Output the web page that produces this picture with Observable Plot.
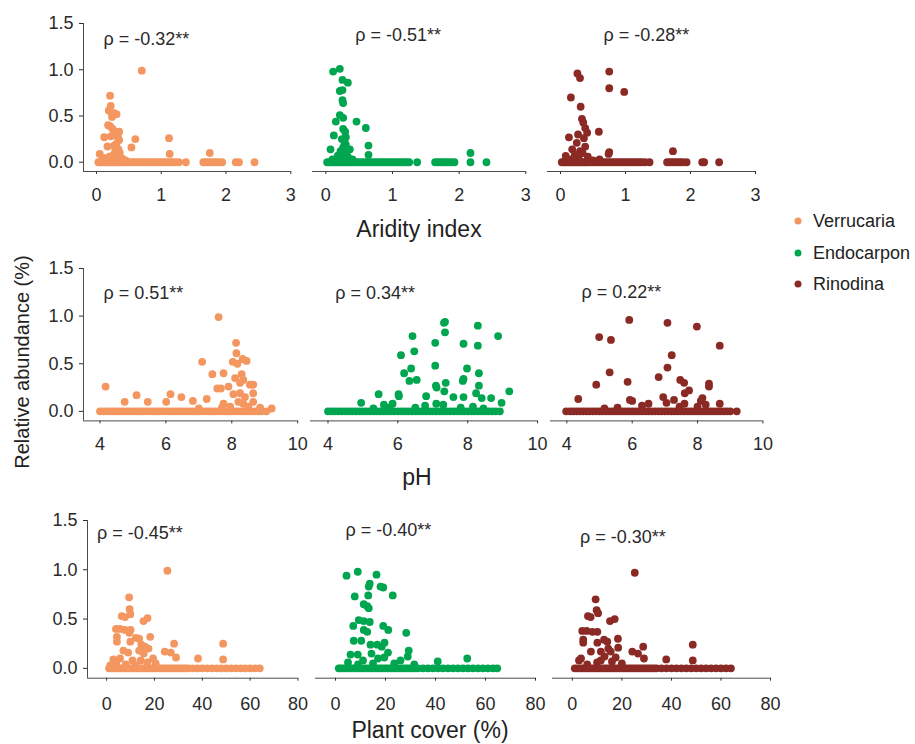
<!DOCTYPE html>
<html><head><meta charset="utf-8">
<script src="https://cdn.jsdelivr.net/npm/d3@7"></script>
<script src="https://cdn.jsdelivr.net/npm/@observablehq/plot@0.6"></script>
<style>
body{margin:0;background:#fff;font-family:"Liberation Sans",Arial,sans-serif;}
#fig{position:relative;width:915px;height:744px;overflow:hidden;background:#fff;}
.lbl{position:absolute;color:#222;white-space:nowrap;line-height:1;}
</style></head><body><div id="fig"></div>
<script>
// ---------- categories / labels ----------
const genera = ["Verrucaria", "Endocarpon", "Rinodina"];
const generaColors = ["#F4965F", "#00A64F", "#8B2A25"];
const variables = ["Aridity index", "pH", "Plant cover (%)"];
const yTitle = "Relative abundance (%)";
const yTicks = [0, 0.5, 1, 1.5];
const aridityTicks = [0, 1, 2, 3];
const pHTicks = [4, 6, 8, 10];
const coverTicks = [0, 20, 40, 60, 80];
const rhoLabels = [
  ["ρ = -0.32**", "ρ = -0.51**", "ρ = -0.28**"],
  ["ρ = 0.51**", "ρ = 0.34**", "ρ = 0.22**"],
  ["ρ = -0.45**", "ρ = -0.40**", "ρ = -0.30**"]
];

// ---------- Aridity index ----------
const aridityVerrucaria = [[0.70,0.99],[0.21,0.72],[0.22,0.61],[0.19,0.56],[0.23,0.54],[0.27,0.53],[0.31,0.52],[0.24,0.49],[0.18,0.40],[0.21,0.39],[0.25,0.36],[0.30,0.32],[0.35,0.33],[0.12,0.27],[0.22,0.28],[0.28,0.30],[0.33,0.27],[0.35,0.24],[0.60,0.25],[1.12,0.26],[0.54,0.16],[0.17,0.17],[0.27,0.18],[0.31,0.20],[0.34,0.14],[0.29,0.12],[0.36,0.10],[1.13,0.09],[0.05,0.09],[1.75,0.10],[0.10,0.05],[0.20,0.06],[0.26,0.08],[0.32,0.05],[0.40,0.04],[0.15,0.03],[0.45,0.02]];
const aridityZerosVerrucaria = [0.03,0.06,0.09,0.12,0.15,0.18,0.21,0.24,0.27,0.30,0.33,0.36,0.39,0.42,0.46,0.50,0.54,0.58,0.62,0.66,0.70,0.74,0.78,0.82,0.86,0.90,0.94,0.98,1.02,1.06,1.10,1.14,1.18,1.22,1.27,1.38,1.65,1.69,1.73,1.77,1.81,1.85,1.89,1.94,2.15,2.20,2.44];
const aridityEndocarpon = [[0.11,0.98],[0.21,1.01],[0.25,0.89],[0.33,0.86],[0.21,0.77],[0.25,0.78],[0.25,0.67],[0.26,0.64],[0.21,0.51],[0.26,0.48],[0.15,0.44],[0.46,0.44],[0.60,0.37],[0.26,0.36],[0.29,0.33],[0.12,0.29],[0.30,0.27],[0.24,0.25],[0.28,0.22],[0.64,0.18],[0.07,0.14],[0.26,0.16],[0.36,0.14],[0.30,0.19],[0.22,0.12],[0.64,0.08],[2.17,0.10],[0.18,0.07],[0.28,0.09],[0.33,0.06],[0.40,0.03],[0.10,0.03],[0.24,0.04]];
const aridityZerosEndocarpon = [0.02,0.05,0.08,0.11,0.14,0.17,0.20,0.23,0.26,0.29,0.32,0.35,0.38,0.41,0.45,0.49,0.53,0.57,0.61,0.65,0.69,0.73,0.77,0.81,0.85,0.89,0.93,0.97,1.01,1.05,1.09,1.13,1.17,1.21,1.25,1.37,1.64,1.68,1.72,1.76,1.80,1.84,1.88,1.93,2.17,2.41];
const aridityRinodina = [[0.26,0.96],[0.30,0.91],[0.75,0.98],[0.75,0.80],[0.98,0.76],[0.16,0.70],[0.31,0.60],[0.33,0.47],[0.35,0.43],[0.38,0.37],[0.41,0.32],[0.59,0.33],[0.13,0.27],[0.27,0.30],[0.36,0.26],[0.25,0.21],[0.38,0.17],[0.18,0.14],[0.30,0.12],[0.75,0.11],[0.74,0.09],[1.73,0.12],[0.08,0.07],[0.22,0.08],[0.34,0.10],[0.42,0.06],[0.28,0.04],[0.60,0.03],[0.15,0.03],[0.50,0.02]];
const aridityZerosRinodina = [0.02,0.05,0.08,0.11,0.14,0.17,0.20,0.23,0.26,0.29,0.32,0.35,0.38,0.41,0.45,0.49,0.53,0.57,0.61,0.65,0.69,0.73,0.77,0.81,0.85,0.89,0.93,0.97,1.01,1.05,1.09,1.13,1.17,1.21,1.25,1.30,1.37,1.64,1.68,1.72,1.76,1.80,1.84,1.88,1.94,2.18,2.21,2.44];

// ---------- pH ----------
const pHVerrucaria = [[7.60,0.99],[8.13,0.72],[8.14,0.61],[7.10,0.52],[8.03,0.52],[8.17,0.50],[8.33,0.55],[8.45,0.53],[7.41,0.39],[7.75,0.40],[8.10,0.35],[8.30,0.39],[8.35,0.33],[8.25,0.30],[4.17,0.26],[7.56,0.24],[7.67,0.24],[7.90,0.26],[8.55,0.28],[8.65,0.28],[8.05,0.18],[8.25,0.19],[8.40,0.15],[8.65,0.19],[5.11,0.17],[6.14,0.18],[6.47,0.15],[7.24,0.13],[4.75,0.10],[5.45,0.10],[6.01,0.10],[6.82,0.11],[7.75,0.08],[8.65,0.10],[7.00,0.03],[9.21,0.03],[8.86,0.04],[8.20,0.10],[8.35,0.08],[7.95,0.05],[8.50,0.05],[7.70,0.04]];
const pHZerosVerrucaria = [4.0,4.1,4.2,4.3,4.4,4.5,4.6,4.7,4.8,4.9,5.0,5.1,5.2,5.3,5.4,5.5,5.6,5.7,5.8,5.9,6.0,6.1,6.2,6.3,6.4,6.5,6.6,6.7,6.8,6.9,7.0,7.1,7.2,7.3,7.4,7.5,7.6,7.7,7.8,7.9,8.0,8.1,8.2,8.3,8.4,8.5,8.6,8.7,8.8,8.9,9.05];
const pHEndocarpon = [[7.32,0.93],[7.35,0.94],[7.35,0.83],[8.29,0.90],[8.87,0.79],[6.42,0.79],[7.07,0.72],[7.88,0.71],[8.29,0.69],[6.09,0.59],[6.47,0.63],[7.07,0.48],[6.38,0.45],[6.18,0.40],[7.98,0.45],[8.32,0.40],[6.33,0.32],[6.54,0.33],[7.88,0.34],[7.86,0.32],[7.37,0.30],[7.09,0.27],[7.11,0.25],[8.32,0.27],[7.33,0.21],[9.19,0.21],[5.45,0.18],[6.02,0.18],[6.03,0.16],[6.81,0.16],[7.59,0.15],[7.88,0.15],[8.24,0.19],[8.40,0.14],[8.67,0.14],[4.95,0.09],[5.60,0.07],[5.85,0.08],[5.75,0.04],[8.97,0.09],[7.10,0.08],[7.30,0.07],[6.78,0.06],[6.50,0.04],[8.15,0.05],[8.45,0.03],[7.80,0.04],[5.30,0.03]];
const pHZerosEndocarpon = [4.0,4.1,4.2,4.3,4.4,4.5,4.6,4.7,4.8,4.9,5.0,5.1,5.2,5.3,5.4,5.5,5.6,5.7,5.8,5.9,6.0,6.1,6.2,6.3,6.4,6.5,6.6,6.7,6.8,6.9,7.0,7.1,7.2,7.3,7.4,7.5,7.6,7.7,7.8,7.9,8.0,8.1,8.2,8.3,8.4,8.5,8.6,8.7,8.8,8.92];
const pHRinodina = [[5.91,0.96],[7.08,0.93],[7.98,0.89],[4.99,0.78],[5.35,0.75],[8.68,0.69],[7.21,0.59],[5.31,0.41],[7.08,0.46],[6.81,0.36],[4.90,0.28],[5.86,0.31],[7.47,0.33],[7.59,0.30],[8.35,0.29],[8.35,0.26],[7.74,0.22],[7.61,0.19],[4.35,0.13],[6.95,0.15],[7.28,0.12],[5.93,0.12],[6.00,0.11],[8.15,0.14],[8.10,0.11],[8.68,0.08],[6.50,0.08],[6.30,0.06],[7.60,0.08],[8.25,0.07],[7.05,0.09],[5.55,0.04],[5.15,0.03],[7.45,0.05],[8.00,0.05]];
const pHZerosRinodina = [3.98,4.1,4.2,4.3,4.4,4.5,4.6,4.7,4.8,4.9,5.0,5.1,5.2,5.3,5.4,5.5,5.6,5.7,5.8,5.9,6.0,6.1,6.2,6.3,6.4,6.5,6.6,6.7,6.8,6.9,7.0,7.1,7.2,7.3,7.4,7.5,7.6,7.7,7.8,7.9,8.0,8.1,8.2,8.3,8.4,8.5,8.6,8.7,8.8,8.9,9.0,9.2];

// ---------- Plant cover ----------
const coverVerrucaria = [[25.4,0.99],[9.4,0.72],[9.6,0.60],[9.9,0.55],[6.3,0.53],[7.7,0.52],[15.4,0.48],[17.1,0.51],[3.9,0.40],[5.6,0.40],[7.7,0.39],[10.0,0.39],[9.5,0.36],[4.3,0.32],[4.3,0.27],[12.2,0.31],[13.6,0.30],[18.2,0.32],[9.9,0.27],[28.2,0.25],[48.7,0.25],[14.5,0.24],[16.0,0.22],[17.5,0.20],[7.0,0.18],[9.0,0.16],[13.6,0.18],[15.5,0.15],[24.3,0.17],[26.8,0.16],[29.0,0.11],[19.4,0.10],[38.2,0.10],[48.7,0.09],[2.8,0.09],[5.6,0.10],[10.8,0.08],[14.2,0.08],[4.0,0.05],[8.0,0.04],[12.0,0.03],[1.5,0.03],[20.5,0.05],[17.0,0.06]];
const coverZerosVerrucaria = [1,2,3,4,5,6,7,8,9,10,11,12,13,14,15,16,17,18,19,20,21,22,23,24,25,26,27,28,29,30,31,32,33,34,36,38,40,42,44,46,48,50,52,54,56,58,60,62,64];
const coverEndocarpon = [[4.4,0.94],[8.9,0.98],[16.4,0.95],[13.7,0.86],[13.3,0.83],[18.0,0.83],[19.1,0.82],[13.1,0.74],[7.7,0.73],[22.9,0.74],[11.3,0.65],[12.7,0.63],[13.3,0.61],[9.3,0.49],[11.3,0.48],[13.7,0.47],[7.1,0.43],[19.1,0.43],[11.3,0.39],[12.7,0.37],[21.1,0.39],[28.3,0.36],[7.3,0.28],[10.3,0.28],[19.6,0.26],[14.0,0.24],[16.7,0.24],[18.5,0.22],[6.0,0.14],[8.9,0.14],[14.4,0.15],[21.0,0.16],[29.3,0.18],[28.9,0.12],[40.9,0.07],[52.7,0.10],[26.0,0.08],[17.0,0.10],[19.5,0.11],[11.0,0.08],[5.0,0.06],[31.5,0.04],[23.5,0.05],[15.0,0.05],[9.0,0.04]];
const coverZerosEndocarpon = [1.3,2,3,4,5,6,7,8,9,10,11,12,13,14,15,16,17,18,19,20,21,22,23,24,25,26,27,28,29,30,31,32,33,35,37,39,41,43,45,47,49,51,53,55,57,59,61,63,64.7];
const coverRinodina = [[25.2,0.97],[9.4,0.70],[9.8,0.59],[10.4,0.56],[6.3,0.53],[7.4,0.52],[15.2,0.48],[17.1,0.50],[4.0,0.38],[5.8,0.38],[8.1,0.37],[10.1,0.37],[4.4,0.29],[4.4,0.26],[12.8,0.29],[14.1,0.27],[18.4,0.30],[10.1,0.26],[28.6,0.22],[48.6,0.24],[7.5,0.17],[11.5,0.17],[14.5,0.20],[15.5,0.17],[18.5,0.21],[24.2,0.17],[26.5,0.15],[28.9,0.10],[37.9,0.09],[48.6,0.08],[2.7,0.08],[3.5,0.10],[17.5,0.11],[10.0,0.06],[11.5,0.08],[13.0,0.12],[6.0,0.04],[20.0,0.05],[16.0,0.07]];
const coverZerosRinodina = [1,2,3,4,5,6,7,8,9,10,11,12,13,14,15,16,17,18,19,20,21,22,23,24,25,26,27,28,29,30,31,32,33,34,36,38,40,42,44,46,48,50,52,54,56,58,60,62,64];

// ---------- layout (pixels) ----------
const rows = [
  {top: 23, bottom: 171, pad: 14, domain: [-0.2, 3], ticks: aridityTicks,
   sets: [[aridityVerrucaria, aridityZerosVerrucaria], [aridityEndocarpon, aridityZerosEndocarpon], [aridityRinodina, aridityZerosRinodina]],
   cols: [[82.7, 290], [312.4, 525.7], [547, 755]],
   rho: [[0.11, 1.33], [0.44, 1.37], [0.66, 1.37]],
   title: {x: 419, y: 229}},
  {top: 268.3, bottom: 420.7, pad: 13, domain: [3.5, 10], ticks: pHTicks,
   sets: [[pHVerrucaria, pHZerosVerrucaria], [pHEndocarpon, pHZerosEndocarpon], [pHRinodina, pHZerosRinodina]],
   cols: [[82.8, 297], [310.2, 537.3], [549.6, 762]],
   rho: [[4.11, 1.24], [4.21, 1.24], [4.45, 1.25]],
   title: {x: 417, y: 477}},
  {top: 520, bottom: 677.7, pad: 16, domain: [-8, 80], ticks: coverTicks,
   sets: [[coverVerrucaria, coverZerosVerrucaria], [coverEndocarpon, coverZerosEndocarpon], [coverRinodina, coverZerosRinodina]],
   cols: [[86.5, 297], [315, 535], [551.9, 770]],
   rho: [[-4.0, 1.37], [4.0, 1.40], [3.1, 1.33]],
   title: {x: 430, y: 730}}
];
const ML = 60, MR = 15, MT = 10, MB = 40;
const fig = document.getElementById("fig");
const AX = "#4a4a4a";

rows.forEach((row, ri) => {
  row.cols.forEach(([x0, x1], ci) => {
    const [pts, zeros] = row.sets[ci];
    const color = generaColors[ci];
    const showY = ci === 0;
    const p = Plot.plot({
      width: x1 - x0 + ML + MR,
      height: row.bottom - row.top + MT + MB,
      marginLeft: ML, marginRight: MR, marginTop: MT, marginBottom: MB,
      style: {fontFamily: '"Liberation Sans", Arial, sans-serif', fontSize: "18px", color: "#2a2a2a", background: "transparent", overflow: "visible"},
      x: {domain: row.domain, ticks: row.ticks, tickSize: 3, tickPadding: row.pad, tickFormat: d => String(d), label: null},
      y: {domain: [-0.1, 1.5], ticks: yTicks, tickSize: 4, tickPadding: 6, tickFormat: d => d.toFixed(1), label: null, axis: showY ? "left" : null},
      marks: [
        Plot.ruleY([-0.1], {stroke: AX, strokeWidth: 1}),
        showY ? Plot.ruleX([row.domain[0]], {stroke: AX, strokeWidth: 1}) : null,
        Plot.dot(zeros, {x: d => d, y: () => 0, r: 3.9, fill: color, stroke: "none"}),
        Plot.dot(pts, {x: d => d[0], y: d => d[1], r: 3.9, fill: color, stroke: "none"}),
        Plot.text([rhoLabels[ri][ci]], {x: () => row.rho[ci][0], y: () => row.rho[ci][1], text: d => d, textAnchor: "start", fontSize: 18, fill: "#2a2a2a"})
      ]
    });
    p.style.position = "absolute";
    p.style.left = (x0 - ML) + "px";
    p.style.top = (row.top - MT) + "px";
    p.style.maxWidth = "none";
    fig.appendChild(p);
  });
  const t = document.createElement("div");
  t.className = "lbl";
  t.textContent = variables[ri];
  t.style.fontSize = "23px";
  t.style.left = row.title.x + "px";
  t.style.top = row.title.y + "px";
  t.style.transform = "translate(-50%,-50%)";
  fig.appendChild(t);
});

// y title
const yt = document.createElement("div");
yt.className = "lbl";
yt.textContent = yTitle;
yt.style.fontSize = "20px";
yt.style.left = "22px";
yt.style.top = "362px";
yt.style.transform = "translate(-50%,-50%) rotate(-90deg)";
fig.appendChild(yt);

// legend
const legY = [221, 253, 284];
genera.forEach((g, i) => {
  const d = document.createElement("div");
  d.className = "lbl";
  d.style.left = "794px";
  d.style.top = legY[i] + "px";
  d.style.transform = "translateY(-50%)";
  d.style.fontSize = "18px";
  d.style.display = "flex";
  d.style.alignItems = "center";
  d.innerHTML = `<svg width="8" height="8" style="margin-right:11px"><circle cx="4" cy="4" r="3.5" fill="${generaColors[i]}"></circle></svg>`;
  const s = document.createElement("span");
  s.textContent = g;
  d.appendChild(s);
  fig.appendChild(d);
});
</script>
</body></html>
